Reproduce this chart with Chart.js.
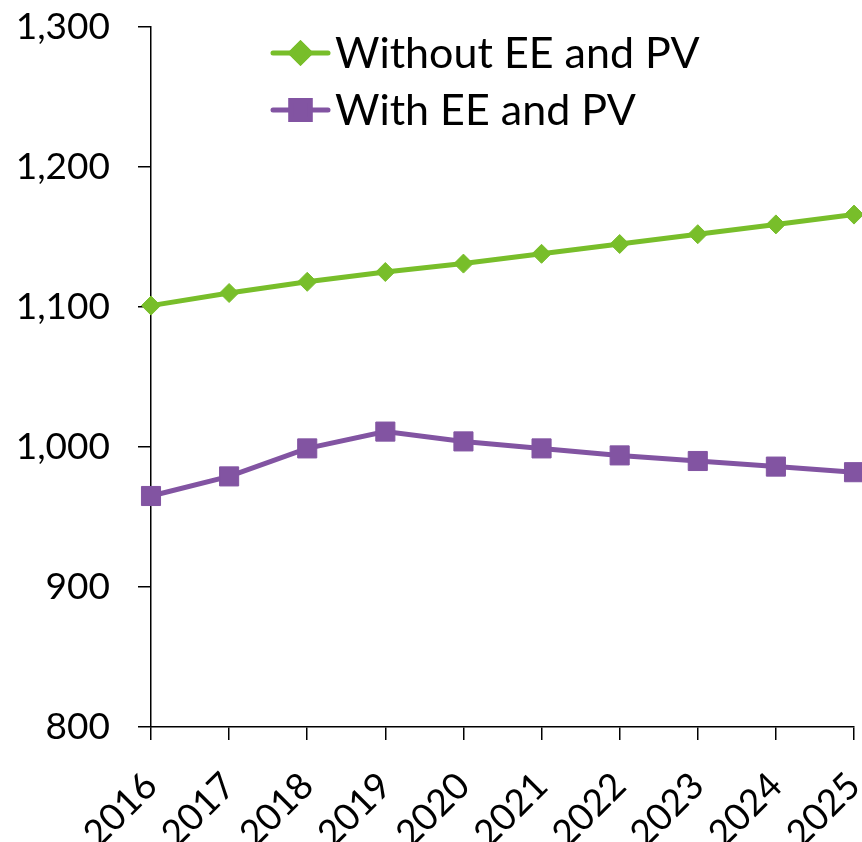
<!DOCTYPE html>
<html>
<head>
<meta charset="utf-8">
<script src="https://cdn.jsdelivr.net/npm/chart.js@4/dist/chart.umd.min.js"></script>
<style>
  html, body { margin: 0; padding: 0; background: #fff; }
  #wrap { width: 862px; height: 842px; }
</style>
</head>
<body>
<div id="wrap"><canvas id="c" width="862" height="842"></canvas></div>
<script>
const years = ['2016','2017','2018','2019','2020','2021','2022','2023','2024','2025'];
const withoutEEPV = [1101, 1110, 1118, 1125, 1131, 1138, 1145, 1152, 1159, 1166];
const withEEPV = [965, 979, 999, 1011, 1004, 999, 994, 990, 986, 982];
const seriesNames = ['Without EE and PV', 'With EE and PV'];
const yTicks = [800, 900, 1000, 1100, 1200, 1300];

const GREEN = '#78BE2A';
const PURPLE = '#8254A2';
const FONT = 'Lato, "DejaVu Sans", sans-serif';

const legendPlugin = {
  id: 'lineLegend',
  afterDraw(chart) {
    const ctx = chart.ctx;
    const x0 = 273, x1 = 328, tx = 335;
    const rows = [53, 110];
    ctx.save();
    chart.data.datasets.forEach((ds, i) => {
      const y = rows[i];
      ctx.strokeStyle = ds.borderColor;
      ctx.lineWidth = ds.borderWidth;
      ctx.lineCap = 'round';
      ctx.beginPath();
      ctx.moveTo(x0, y);
      ctx.lineTo(x1, y);
      ctx.stroke();
      Chart.helpers.drawPoint(ctx, {
        pointStyle: ds.pointStyle,
        radius: ds.pointRadius,
        rotation: 0,
        borderWidth: 1
      }, (x0 + x1) / 2, y);
      ctx.fillStyle = ds.pointBackgroundColor;
      ctx.strokeStyle = ds.pointBorderColor;
      ctx.fill();
      ctx.stroke();
      ctx.fillStyle = '#000';
      ctx.font = '43px ' + FONT;
      ctx.textAlign = 'left';
      ctx.textBaseline = 'alphabetic';
      ctx.fillText(ds.label, tx, y + 15);
    });
    ctx.restore();
  }
};

new Chart(document.getElementById('c'), {
  type: 'line',
  data: {
    labels: years,
    datasets: [
      {
        label: seriesNames[0],
        data: withoutEEPV,
        borderColor: GREEN,
        backgroundColor: GREEN,
        borderWidth: 5,
        pointStyle: 'rectRot',
        pointRadius: 9.5,
        pointBackgroundColor: GREEN,
        pointBorderColor: GREEN,
        pointBorderWidth: 1,
        tension: 0,
        clip: false
      },
      {
        label: seriesNames[1],
        data: withEEPV,
        borderColor: PURPLE,
        backgroundColor: PURPLE,
        borderWidth: 5,
        pointStyle: 'rect',
        pointRadius: 13.5,
        pointBackgroundColor: PURPLE,
        pointBorderColor: PURPLE,
        pointBorderWidth: 1,
        tension: 0,
        clip: false
      }
    ]
  },
  options: {
    responsive: false,
    animation: false,
    devicePixelRatio: 1,
    layout: { autoPadding: false, padding: { left: 0, right: 8, top: 27, bottom: 0 } },
    plugins: {
      legend: { display: false },
      tooltip: { enabled: false }
    },
    scales: {
      x: {
        type: 'category',
        offset: false,
        grid: { drawOnChartArea: false, color: '#000', tickLength: 13, lineWidth: 1.5 },
        border: { color: '#000', width: 1.5 },
        ticks: {
          color: '#000',
          font: { family: FONT, size: 37 },
          minRotation: 45,
          maxRotation: 45,
          autoSkip: false,
          padding: 24
        },
        afterFit(scale) {
          scale.height = 115;
          scale.paddingLeft = 0;
          scale.paddingRight = 0;
        }
      },
      y: {
        min: 800,
        max: 1300,
        afterBuildTicks(scale) {
          scale.ticks = yTicks.map(v => ({ value: v }));
        },
        grid: { drawOnChartArea: false, color: '#000', tickLength: 13, lineWidth: 1.5 },
        border: { color: '#000', width: 1.5 },
        ticks: {
          color: '#000',
          font: { family: FONT, size: 37 },
          padding: 28,
          callback: v => v.toLocaleString('en-US')
        },
        afterFit(scale) {
          scale.width = 151;
          scale.paddingTop = 0;
          scale.paddingBottom = 0;
        }
      }
    }
  },
  plugins: [legendPlugin]
});
</script>
</body>
</html>
